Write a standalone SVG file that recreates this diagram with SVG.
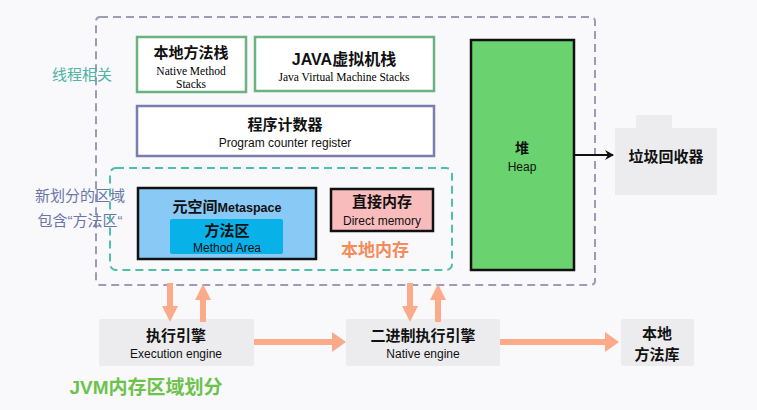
<svg xmlns="http://www.w3.org/2000/svg" width="757" height="410" viewBox="0 0 757 410">
<defs>
<style>
text{font-family:"Liberation Sans","Noto Sans CJK SC",sans-serif;text-anchor:middle}
.cn{font-weight:bold;fill:#111}
.en{fill:#111;font-size:12px}
.serif{font-family:"Liberation Serif","Noto Sans CJK SC",serif}
.gbox{fill:#ececee}
.oa{stroke:#fbab8a;stroke-width:6;fill:none}
</style>
<marker id="ah" markerWidth="10" markerHeight="10" refX="8" refY="5" orient="auto" markerUnits="userSpaceOnUse"><path d="M0,0 L9,5 L0,10 L3,5 Z" fill="#111"/></marker>
</defs>
<rect width="757" height="410" fill="#f9f9fc"/>
<g id="jvm-outer"><rect x="96" y="17" width="499" height="268" rx="4" fill="none" stroke="#9c9cb8" stroke-width="2" stroke-dasharray="8,5"/></g>
<g id="label-thread"><text x="82" y="80" font-size="15" fill="#4fb3a6">线程相关</text></g>
<g id="label-new"><text x="80" y="201" font-size="15" fill="#6a76a8">新划分的区域</text><text x="80" y="226" font-size="15" fill="#6a76a8">包含“方法区“</text></g>
<g id="native-stack"><rect x="137" y="37" width="109" height="55" fill="#fff" stroke="#6ab27f" stroke-width="2.5"/><text x="191" y="58" class="cn" font-size="15">本地方法栈</text><text x="191" y="75" class="serif" font-size="11.5">Native Method</text><text x="191" y="88" class="serif" font-size="11.5">Stacks</text></g>
<g id="jvm-stack"><rect x="255" y="37" width="179" height="54" fill="#fff" stroke="#6ab27f" stroke-width="2.5"/><text x="344" y="65" class="cn" font-size="16">JAVA虚拟机栈</text><text x="344" y="81" class="serif" font-size="11.5">Java Virtual Machine Stacks</text></g>
<g id="pc"><rect x="137" y="106" width="297" height="50" fill="#fff" stroke="#7a7eae" stroke-width="2.5"/><text x="285" y="130" class="cn" font-size="15">程序计数器</text><text x="285" y="147" class="en">Program counter register</text></g>
<g id="native-mem"><rect x="110" y="168" width="342" height="102" rx="6" fill="none" stroke="#4fbfa8" stroke-width="2" stroke-dasharray="8,5"/><text x="375" y="256" font-size="17" font-weight="bold" fill="#f58a5a">本地内存</text></g>
<g id="metaspace"><rect x="138" y="188" width="178" height="71" fill="#89c9f6" stroke="#111" stroke-width="2.5"/><text x="227" y="212" class="cn" font-size="15">元空间<tspan font-size="12.5">Metaspace</tspan></text></g>
<g id="method-area"><rect x="170" y="219" width="113" height="35" rx="2" fill="#08b1e8"/><text x="227" y="236" class="cn" font-size="15">方法区</text><text x="227" y="252" class="en">Method Area</text></g>
<g id="direct"><rect x="331" y="189" width="102" height="42" fill="#f9bcbc" stroke="#111" stroke-width="2.5"/><text x="382" y="207" class="cn" font-size="15">直接内存</text><text x="382" y="225" class="en">Direct memory</text></g>
<g id="heap"><rect x="471" y="40" width="103" height="230" fill="#6ad26e" stroke="#111" stroke-width="2.5"/><text x="522" y="153" class="cn" font-size="14">堆</text><text x="522" y="171" class="en">Heap</text></g>
<g id="gc"><rect x="636" y="115" width="36" height="14" class="gbox"/><rect x="615" y="128" width="102" height="67" class="gbox"/><text x="666" y="162" class="cn" font-size="15">垃圾回收器</text></g>
<g id="exec"><rect x="99" y="319" width="155" height="47" rx="2" class="gbox"/><text x="176" y="341" class="cn" font-size="15">执行引擎</text><text x="176" y="358" class="en">Execution engine</text></g>
<g id="native-engine"><rect x="346" y="319" width="154" height="47" rx="2" class="gbox"/><text x="423" y="341" class="cn" font-size="15">二进制执行引擎</text><text x="423" y="358" class="en">Native engine</text></g>
<g id="native-lib"><rect x="621" y="319" width="73" height="47" rx="2" class="gbox"/><text x="657" y="339" class="cn" font-size="15">本地</text><text x="657" y="360" class="cn" font-size="15">方法库</text></g>
<g id="title"><text x="146" y="394" font-size="19" font-weight="bold" fill="#6cc24a">JVM内存区域划分</text></g>
<g id="connectors">
<line x1="574" y1="155" x2="613" y2="155" stroke="#111" stroke-width="2" marker-end="url(#ah)"/>
<line x1="170" y1="283" x2="170" y2="308" class="oa"/><polygon points="162,306 178,306 170,322" fill="#fbab8a"/>
<line x1="203" y1="322" x2="203" y2="298" class="oa"/><polygon points="195,300 211,300 203,284" fill="#fbab8a"/>
<line x1="410" y1="283" x2="410" y2="308" class="oa"/><polygon points="402,306 418,306 410,322" fill="#fbab8a"/>
<line x1="438" y1="322" x2="438" y2="298" class="oa"/><polygon points="430,300 446,300 438,284" fill="#fbab8a"/>
<line x1="254" y1="342" x2="334" y2="342" class="oa"/><polygon points="332,332 346,342 332,352" fill="#fbab8a"/>
<line x1="500" y1="342" x2="607" y2="342" class="oa"/><polygon points="605,332 619,342 605,352" fill="#fbab8a"/>
</g>
</svg>
